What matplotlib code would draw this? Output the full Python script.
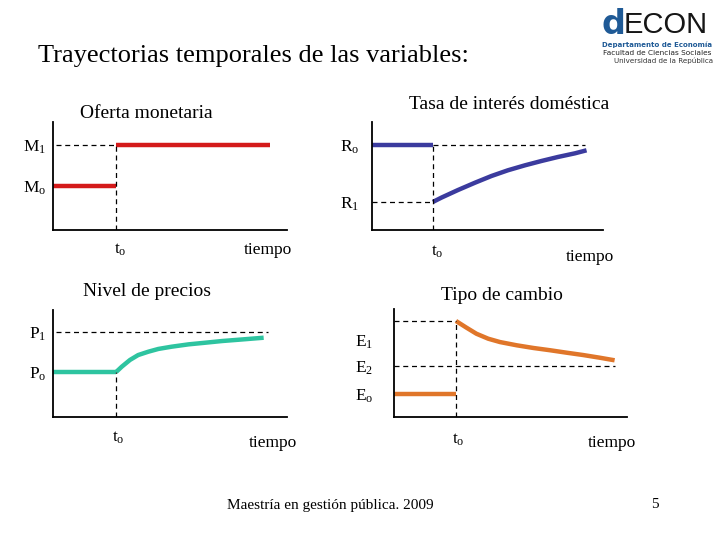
import matplotlib
matplotlib.use("Agg")
import matplotlib.pyplot as plt

plt.rcParams['font.family'] = ['Liberation Serif', 'DejaVu Serif']
plt.rcParams['mathtext.fontset'] = 'custom'
plt.rcParams['mathtext.rm'] = 'Liberation Serif'
plt.rcParams['mathtext.it'] = 'Liberation Serif'

# ---------------- data ----------------
T0 = 1.0
# Oferta monetaria
money_t_before = [0.0, 1.0]
money_before = [4.1, 4.1]
money_t_after = [1.0, 3.44]
money_after = [7.87, 7.87]
M_levels = [7.87, 4.1]
M_labels = [r'$\mathregular{M_1}$', r'$\mathregular{M_o}$']

# Tasa de interés doméstica
rate_t_before = [0.0, 1.0]
rate_before = [7.87, 7.87]
rate_t_after = [1.0, 1.14, 1.41, 1.69, 1.96, 2.23, 2.51, 2.78, 3.05, 3.33, 3.52]
rate_after = [2.6, 3.0, 3.70, 4.38, 5.0, 5.53, 5.99, 6.39, 6.76, 7.10, 7.38]
R_levels = [7.87, 2.6]
R_labels = [r'$\mathregular{R_o}$', r'$\mathregular{R_1}$']
rate_ref_end = 3.49

# Nivel de precios
price_t_before = [0.0, 1.0]
price_before = [4.2, 4.2]
price_t_after = [1.0, 1.09, 1.22, 1.35, 1.51, 1.67, 1.88, 2.15, 2.41, 2.68, 2.94, 3.34]
price_after = [4.2, 4.70, 5.33, 5.79, 6.10, 6.36, 6.57, 6.79, 6.94, 7.10, 7.22, 7.41]
P_levels = [7.94, 4.2]
P_labels = [r'$\mathregular{P_1}$', r'$\mathregular{P_o}$']
price_ref_end = 3.41

# Tipo de cambio
fx_t_before = [0.0, 1.0]
fx_before = [2.13, 2.13]
fx_t_after = [1.0, 1.17, 1.33, 1.52, 1.71, 1.98, 2.25, 2.52, 2.79, 3.05, 3.32, 3.56]
fx_after = [8.89, 8.27, 7.71, 7.25, 6.94, 6.64, 6.39, 6.18, 5.95, 5.74, 5.49, 5.25]
E_jump = 8.89
E_levels = [7.1, 4.72, 2.13]
E_labels = [r'$\mathregular{E_1}$', r'$\mathregular{E_2}$', r'$\mathregular{E_o}$']
fx_ref_end = 3.56

titles = ['Oferta monetaria', 'Tasa de interés doméstica', 'Nivel de precios', 'Tipo de cambio']

# ---------------- figure ----------------
W, H = 720, 540
fig = plt.figure(figsize=(7.2, 5.4), dpi=100)
fig.patch.set_facecolor('white')

def add_ax(x0, x1, ytop, ybot, xmax):
    ax = fig.add_axes([x0 / W, 1 - ybot / H, (x1 - x0) / W, (ybot - ytop) / H])
    ax.set_xlim(0, xmax)
    ax.set_ylim(0, 10)
    for s in ['top', 'right']:
        ax.spines[s].set_visible(False)
    for s in ['left', 'bottom']:
        ax.spines[s].set_linewidth(1.3)
        ax.spines[s].set_color('black')
    ax.set_xticks([])
    ax.tick_params(axis='y', length=0, labelsize=12.5)
    ax.patch.set_alpha(0)
    return ax

dash = dict(color='black', lw=0.9, ls=(0, (4, 3)))
thick = 3.2
lk = dict(lw=thick, solid_capstyle='butt', solid_joinstyle='round')

def xlabels(ax, t0x, t0dy, tx, tdy):
    ax.annotate(r'$\mathregular{t_o}$', xy=(t0x, 0), xycoords=('data', 'axes fraction'),
                xytext=(0, -t0dy), textcoords='offset pixels', ha='center', va='center', fontsize=12.5)
    ax.annotate('tiempo', xy=(tx, 0), xycoords=('data', 'axes fraction'),
                xytext=(0, -tdy), textcoords='offset pixels', ha='center', va='center', fontsize=12.5)

# Panel 1
ax1 = add_ax(53, 287, 122, 230, 3.71)
ax1.plot(money_t_before, money_before, color='#d41a1a', **lk)
ax1.plot(money_t_after, money_after, color='#d41a1a', **lk)
ax1.plot([0.05, T0], [M_levels[0]] * 2, **dash)
ax1.plot([T0, T0], [0, M_levels[0]], **dash)
ax1.set_yticks(M_levels, M_labels)
ax1.tick_params(axis='y', pad=5)
xlabels(ax1, 1.07, 20, 3.4, 20)

# Panel 2
ax2 = add_ax(372, 603, 122, 230, 3.79)
ax2.plot(rate_t_before, rate_before, color='#3b3b9e', **lk)
ax2.plot(rate_t_after, rate_after, color='#3b3b9e', **lk)
ax2.plot([T0, rate_ref_end], [R_levels[0]] * 2, **dash)
ax2.plot([0, T0], [R_levels[1]] * 2, **dash)
ax2.plot([T0, T0], [0, R_levels[0]], **dash)
ax2.set_yticks(R_levels, R_labels)
ax2.tick_params(axis='y', pad=9)
xlabels(ax2, 1.07, 22, 3.57, 27)

# Panel 3
ax3 = add_ax(53, 287, 310, 417, 3.71)
ax3.plot(price_t_before, price_before, color='#2ec4a0', **lk)
ax3.plot(price_t_after, price_after, color='#2ec4a0', **lk)
ax3.plot([0.05, price_ref_end], [P_levels[0]] * 2, **dash)
ax3.plot([T0, T0], [0, P_levels[1]], **dash)
ax3.set_yticks(P_levels, P_labels)
ax3.tick_params(axis='y', pad=5)
xlabels(ax3, 1.03, 21, 3.48, 26)

# Panel 4
ax4 = add_ax(394, 627, 309, 417, 3.76)
ax4.plot(fx_t_before, fx_before, color='#e0762a', **lk)
ax4.plot(fx_t_after, fx_after, color='#e0762a', **lk)
ax4.plot([0, T0], [E_jump] * 2, **dash)
ax4.plot([0, fx_ref_end], [E_levels[1]] * 2, **dash)
ax4.plot([T0, T0], [0, E_jump], **dash)
ax4.set_yticks(E_levels, E_labels)
ax4.tick_params(axis='y', pad=15)
xlabels(ax4, 1.03, 23, 3.52, 26)

# Titles
def ftext(x, y, s, **kw):
    fig.text(x / W, 1 - y / H, s, **kw)

ftext(146, 114, titles[0], ha='center', va='center', fontsize=14)
ftext(509, 104, titles[1], ha='center', va='center', fontsize=14)
ftext(147, 291, titles[2], ha='center', va='center', fontsize=14)
ftext(502, 296, titles[3], ha='center', va='center', fontsize=14)

ftext(38, 56, 'Trayectorias temporales de las variables:', ha='left', va='center', fontsize=19)

# Footer
ftext(330, 505, 'Maestría en gestión pública. 2009', ha='center', va='center', fontsize=11)
ftext(655, 505, '5', ha='center', va='center', fontsize=11)

# Logo
ftext(625, 25, 'd', ha='right', va='center', fontsize=24, fontweight='bold',
      color='#1f5a96', family=['DejaVu Sans'])
ftext(624, 25, 'ECON', ha='left', va='center', fontsize=21,
      color='#161616', family=['Liberation Sans'])
ftext(657, 45, 'Departamento de Economía', ha='center', va='center', fontsize=5.0,
      color='#1f5a96', fontweight='bold', family=['DejaVu Sans'])
ftext(657, 53, 'Facultad de Ciencias Sociales', ha='center', va='center', fontsize=5.3,
      color='#222222', family=['DejaVu Sans'])
ftext(664, 61, 'Universidad de la República', ha='center', va='center', fontsize=5.1,
      color='#333333', family=['DejaVu Sans'])

fig.savefig('out.png', dpi=100)
